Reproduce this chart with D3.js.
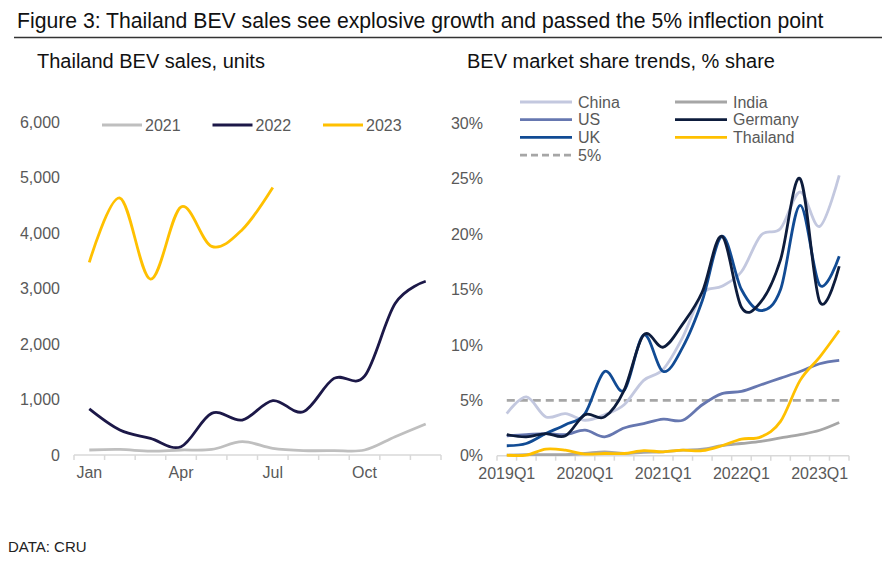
<!DOCTYPE html>
<html>
<head>
<meta charset="utf-8">
<script src="https://d3js.org/d3.v7.min.js"></script>
<style>
 body {margin:0; background:#fff;}
 svg {font-family: "Liberation Sans", Arial, sans-serif;}
 .tick text {fill:#595959; font-size:16px;}
</style>
</head>
<body>
<svg width="892" height="562"></svg>
<script>

// left chart: monthly Thailand BEV sales
var months = ['Jan','Feb','Mar','Apr','May','Jun','Jul','Aug','Sep','Oct','Nov','Dec'];
var sales2021 = [90,100,70,90,100,240,120,80,80,90,330,560];
var sales2022 = [830,450,300,150,750,630,980,780,1380,1420,2730,3130];
var sales2023 = [3470,4630,3170,4470,3760,4060,4820];
var salesTicks = [0,1000,2000,3000,4000,5000,6000];
var monthLabels = ['Jan','Apr','Jul','Oct'];

// right chart: quarterly BEV share, %
var quarters = ['2019Q1','2019Q2','2019Q3','2019Q4','2020Q1','2020Q2','2020Q3','2020Q4',
 '2021Q1','2021Q2','2021Q3','2021Q4','2022Q1','2022Q2','2022Q3','2022Q4','2023Q1','2023Q2'];
var china    = [3.8,5.3,3.5,3.8,3.2,3.7,4.6,6.8,7.8,10.7,14.6,15.3,16.6,19.9,20.5,23.8,20.7,25.3];
var us       = [1.8,1.9,2.0,1.9,2.3,1.7,2.5,2.9,3.3,3.2,4.6,5.6,5.8,6.4,7.0,7.6,8.3,8.6];
var uk       = [0.9,1.1,2.0,2.8,3.8,7.6,5.9,10.9,7.6,9.8,14.0,19.8,15.0,13.1,15.0,22.6,15.4,18.0];
var india    = [0.05,0.1,0.1,0.1,0.2,0.35,0.2,0.3,0.35,0.5,0.6,0.9,1.1,1.3,1.6,1.9,2.3,3.0];
var germany  = [1.9,1.7,2.0,1.8,3.7,3.5,5.9,10.9,9.8,11.9,14.8,19.8,13.4,13.9,17.7,25.0,13.9,17.1];
var thailand = [0.05,0.05,0.6,0.5,0.15,0.2,0.2,0.45,0.35,0.5,0.45,0.9,1.5,1.7,3.1,6.8,8.9,11.3];
var threshold = 5;
var shareTicks = [0,5,10,15,20,25,30];
var quarterLabels = ['2019Q1','2020Q1','2021Q1','2022Q1','2023Q1'];

var svg = d3.select('svg');

// title + rule
svg.append('text').attr('x',17).attr('y',28)
  .style('font-size','21.2px').style('fill','#111')
  .text('Figure 3: Thailand BEV sales see explosive growth and passed the 5% inflection point');
svg.append('line').attr('x1',14).attr('x2',882).attr('y1',37.5).attr('y2',37.5)
  .style('stroke','#333').style('stroke-width',1.5);

svg.append('text').attr('x',37).attr('y',68)
  .style('font-size','20px').style('fill','#111').text('Thailand BEV sales, units');
svg.append('text').attr('x',467).attr('y',68)
  .style('font-size','20px').style('fill','#111').text('BEV market share trends, % share');

svg.append('text').attr('x',8).attr('y',552)
  .style('font-size','15px').style('fill','#222').text('DATA: CRU');

// draws a category x axis with boundary ticks, and a plain y axis
function drawAxes(x, y, yTicks, yFmt, xLabels, yLabelX) {
  var y0 = y.range()[0];
  var ax = svg.append('g');
  ax.append('line').attr('x1',x.range()[0]).attr('x2',x.range()[1])
    .attr('y1',y0).attr('y2',y0).style('stroke','#d9d9d9').style('stroke-width',1.5);
  var bounds = x.domain().map(function(d){ return x(d); }).concat([x.range()[1]]);
  ax.selectAll('.bt').data(bounds).enter().append('line')
    .attr('x1',function(d){return d;}).attr('x2',function(d){return d;})
    .attr('y1',y0).attr('y2',y0+5).style('stroke','#d9d9d9').style('stroke-width',1.5);

  var xa = svg.append('g').attr('transform','translate(0,'+y0+')')
    .call(d3.axisBottom(x).tickValues(xLabels).tickSize(0).tickPadding(12));
  xa.select('.domain').remove();

  var ya = svg.append('g').attr('transform','translate('+yLabelX+',0)')
    .call(d3.axisLeft(y).tickValues(yTicks).tickFormat(yFmt).tickSize(0).tickPadding(0));
  ya.select('.domain').remove();
}

// ---------- left chart ----------
var xL = d3.scaleBand().domain(months).range([74,441]);
var yL = d3.scaleLinear().domain([0,6000]).range([455,122]);
drawAxes(xL, yL, salesTicks, d3.format(','), monthLabels, 60);

var lineL = d3.line()
  .x(function(d,i){ return xL(months[i]) + xL.bandwidth()/2; })
  .y(function(d){ return yL(d); })
  .curve(d3.curveCardinal);

var leftSeries = [
  {name:'2021', values:sales2021, color:'#bfbfbf'},
  {name:'2022', values:sales2022, color:'#1c1848'},
  {name:'2023', values:sales2023, color:'#ffc000'}
];
svg.append('g').selectAll('path').data(leftSeries).enter().append('path')
  .attr('d', function(d){ return lineL(d.values); })
  .style('fill','none').style('stroke-width',2.8)
  .style('stroke', function(d){ return d.color; });

var legL = svg.append('g').selectAll('g').data(leftSeries).enter().append('g')
  .attr('transform', function(d,i){ return 'translate('+(102 + i*110.5)+',125)'; });
legL.append('line').attr('x1',0).attr('x2',40).style('stroke-width',2.8)
  .style('stroke', function(d){ return d.color; });
legL.append('text').attr('x',43).attr('dy','0.35em')
  .style('font-size','16px').style('fill','#595959').text(function(d){ return d.name; });

// ---------- right chart ----------
var xR = d3.scaleBand().domain(quarters).range([497,849]);
var yR = d3.scaleLinear().domain([0,30]).range([455.7,123.3]);
drawAxes(xR, yR, shareTicks, function(d){ return d + '%'; }, quarterLabels, 483);

var lineR = d3.line()
  .x(function(d,i){ return xR(quarters[i]) + xR.bandwidth()/2; })
  .y(function(d){ return yR(d); })
  .curve(d3.curveCardinal);

// 5% reference line
svg.append('line')
  .attr('x1', xR(quarters[0]) + xR.bandwidth()/2)
  .attr('x2', xR(quarters[quarters.length-1]) + xR.bandwidth()/2)
  .attr('y1', yR(threshold)).attr('y2', yR(threshold))
  .style('stroke','#a6a6a6').style('stroke-width',2.8).style('stroke-dasharray','8,5');

var rightSeries = [
  {name:'China', values:china, color:'#c3c8df'},
  {name:'US', values:us, color:'#6677b0'},
  {name:'UK', values:uk, color:'#114b94'},
  {name:'India', values:india, color:'#a6a6a6'},
  {name:'Germany', values:germany, color:'#0d1c3c'},
  {name:'Thailand', values:thailand, color:'#ffc000'}
];
var drawOrder = ['China','India','US','UK','Germany','Thailand'];
svg.append('g').selectAll('path')
  .data(drawOrder.map(function(n){ return rightSeries.find(function(s){ return s.name===n; }); }))
  .enter().append('path')
  .attr('d', function(d){ return lineR(d.values); })
  .style('fill','none').style('stroke-width',2.8)
  .style('stroke', function(d){ return d.color; });

// legend: two columns, then the dashed 5% entry
var legendItems = [
  {name:'China', color:'#c3c8df', col:0, row:0},
  {name:'India', color:'#a6a6a6', col:1, row:0},
  {name:'US', color:'#6677b0', col:0, row:1},
  {name:'Germany', color:'#0d1c3c', col:1, row:1},
  {name:'UK', color:'#114b94', col:0, row:2},
  {name:'Thailand', color:'#ffc000', col:1, row:2},
  {name:'5%', color:'#a6a6a6', col:0, row:3, dash:true}
];
var legR = svg.append('g').selectAll('g').data(legendItems).enter().append('g')
  .attr('transform', function(d){ return 'translate('+(520 + d.col*155)+','+(102 + d.row*17.7)+')'; });
legR.append('line').attr('x1',0).attr('x2',52).style('stroke-width',2.8)
  .style('stroke', function(d){ return d.color; })
  .style('stroke-dasharray', function(d){ return d.dash ? '7,4' : null; });
legR.append('text').attr('x',58).attr('dy','0.35em')
  .style('font-size','16px').style('fill','#595959').text(function(d){ return d.name; });

</script>
</body>
</html>
